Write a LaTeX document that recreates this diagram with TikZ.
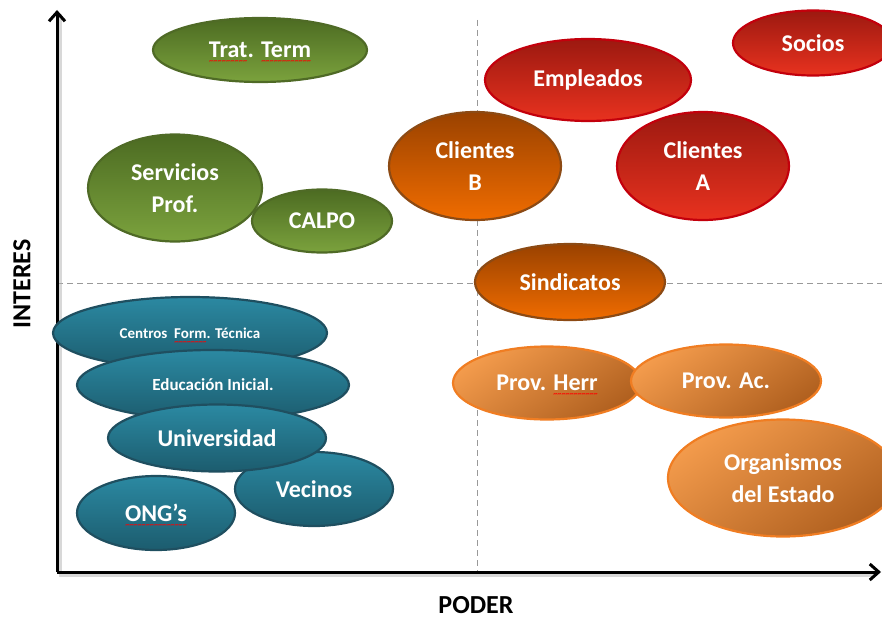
\documentclass[tikz,border=0pt]{standalone}
\usepackage{fontspec}
\setmainfont{Carlito}
\usetikzlibrary{shapes.geometric,arrows.meta}
\newcommand\squig[1]{\setbox0\hbox{#1}\rlap{\raisebox{-6pt}[0pt][0pt]{\color{red}\fontsize{8}{8}\selectfont\hbox to \wd0{\xleaders\hbox{\char"7E}\hfil}}}\box0}
\definecolor{grnT}{HTML}{4C6B22}
\definecolor{grnB}{HTML}{7BA23D}
\definecolor{grnD}{HTML}{4F6A26}
\definecolor{tealT}{HTML}{2B89A2}
\definecolor{tealB}{HTML}{1C5C6E}
\definecolor{tealD}{HTML}{1F4F60}
\definecolor{redT}{HTML}{9C1910}
\definecolor{redB}{HTML}{E8321F}
\definecolor{redD}{HTML}{C3000C}
\definecolor{brT}{HTML}{9A4200}
\definecolor{brB}{HTML}{F06C00}
\definecolor{brD}{HTML}{8C4A14}
\definecolor{orT}{HTML}{F39B4C}
\definecolor{orB}{HTML}{B0601F}
\definecolor{orD}{HTML}{F07D22}
\begin{document}
\begin{tikzpicture}[x=1pt,y=-1pt,
  blob/.style={ellipse, inner sep=0pt, line width=2.2pt, text=white, align=center,
    font=\fontsize{24}{32}\selectfont\bfseries},
  grn/.style={blob, draw=grnD, top color=grnT, bottom color=grnB},
  teal/.style={blob, draw=tealD, top color=tealT, bottom color=tealB},
  rd/.style={blob, draw=redD, top color=redT, bottom color=redB},
  brn/.style={blob, draw=brD, top color=brT, bottom color=brB},
  org/.style={blob, draw=orD, top color=orT, bottom color=orB, shading angle=35},
  axis/.style={line width=3pt, -{Straight Barb[length=9pt,width=16pt,line width=3pt]}},
  axshadow/.style={line width=3pt, draw=black!30, opacity=0.5},
  guide/.style={draw=gray!80, line width=0.8pt, dash pattern=on 6pt off 4pt},
  axlabel/.style={font=\fontsize{26}{28}\selectfont\bfseries, inner sep=0pt}
]
\useasboundingbox (0,0) rectangle (882,618);
\clip (0,0) rectangle (882,618);

% guides
\coordinate (gvt) at (477,20);
\coordinate (gvb) at (477,572);
\coordinate (ghl) at (57,283);
\coordinate (ghr) at (882,283);
\draw[guide] (gvt) -- (gvb);
\draw[guide] (ghl) -- (ghr);

% axes
\coordinate (O) at (57,572);
\coordinate (Ytop) at (57,10);
\coordinate (Xend) at (881,572);
\coordinate (Os) at (60,575);
\coordinate (Ys) at (60,14);
\coordinate (Xs) at (876,575);
\draw[axshadow] (Ys) -- (Os) -- (Xs);
\draw[axis] (O) -- (Ytop);
\draw[axis] (O) -- (Xend);

\node[axlabel, rotate=90] (inter) at (22,284) {INTERES};
\node[axlabel] (poder) at (476,605) {PODER};

% green
\node[grn, minimum width=214pt, minimum height=64pt] (trat) at (260,50) {\squig{Trat}. \squig{Term}};
\node[grn, minimum width=174pt, minimum height=107pt] (serv) at (175,188) {Servicios\\Prof.};
\node[grn, minimum width=140pt, minimum height=63pt] (calpo) at (322,221) {CALPO};

% red / brown
\node[brn, minimum width=172pt, minimum height=108pt] (clib) at (475,166) {Clientes\\B};
\node[rd, minimum width=206pt, minimum height=82pt] (empl) at (588,80) {Empleados};
\node[rd, minimum width=160pt, minimum height=65pt] (socios) at (813,43) {Socios};
\node[rd, minimum width=172pt, minimum height=108pt] (clia) at (703,166) {Clientes\\A};
\node[brn, minimum width=190pt, minimum height=76pt] (sind) at (570,282) {Sindicatos};

% light orange
\node[org, minimum width=188pt, minimum height=73pt] (provh) at (547,383) {Prov. \squig{Herr}};
\node[org, minimum width=190pt, minimum height=73pt] (prova) at (726,381) {Prov. Ac.};
\node[org, minimum width=230pt, minimum height=117pt] (orgst) at (783,478) {Organismos\\del Estado};

% teal
\node[teal, minimum width=158pt, minimum height=74pt] (vec) at (314,489) {Vecinos};
\node[teal, minimum width=274pt, minimum height=72pt, font=\fontsize{15}{18}\selectfont\bfseries] (cent) at (190,333) {Centros\ \ \squig{Form}. Técnica};
\node[teal, minimum width=272pt, minimum height=70pt, font=\fontsize{17}{20}\selectfont\bfseries] (educ) at (213,385) {Educación Inicial.};
\node[teal, minimum width=218pt, minimum height=67pt] (univ) at (217,438) {Universidad};
\node[teal, minimum width=158pt, minimum height=74pt] (ong) at (156,513) {\squig{ONG’s}};
\end{tikzpicture}
\end{document}
